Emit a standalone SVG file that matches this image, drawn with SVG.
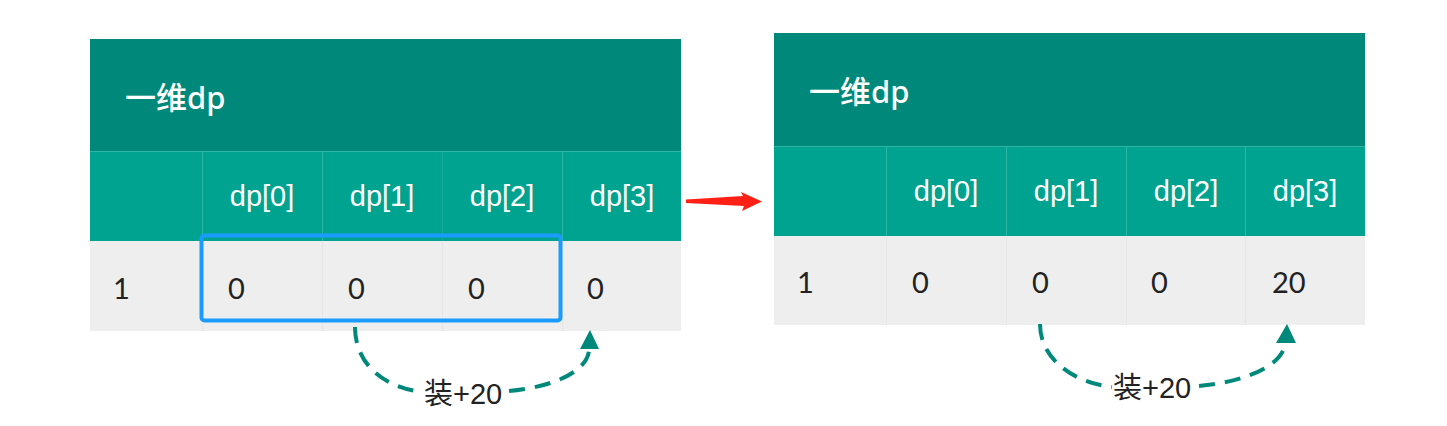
<svg xmlns="http://www.w3.org/2000/svg" width="1447" height="426" viewBox="0 0 1447 426">
<style>
.title{fill:#00897b}
.head{fill:#00a390}
.row{fill:#eeeeee}
.sep{stroke:#2fb5a3;stroke-width:1}
.sepd{stroke:#e6e6e6;stroke-width:1}
.tt{font-family:"Noto Sans","Noto Sans CJK SC",sans-serif;font-size:31px;font-weight:500;fill:#ffffff}
.ht{font-family:"Liberation Sans",sans-serif;font-size:29px;fill:#ffffff;text-anchor:middle}
.dt{font-family:"Lato","Liberation Sans",sans-serif;font-size:29px;fill:#222222}
.lbl{font-family:"Liberation Sans","Noto Sans CJK SC",sans-serif;font-size:29px;fill:#222222}
.curve{fill:none;stroke:#00897b;stroke-width:4;stroke-dasharray:16 10}
</style>
<rect width="1447" height="426" fill="#ffffff"/>
<g id="table-left">
<rect class="title" x="90" y="39" width="591" height="112"/>
<rect class="head" x="90" y="151" width="591" height="90"/>
<rect class="row" x="90" y="241" width="591" height="90"/>
<line class="sep" x1="90" y1="151.5" x2="681" y2="151.5"/>
<line class="sep" x1="202.5" y1="151" x2="202.5" y2="241"/>
<line class="sep" x1="322.5" y1="151" x2="322.5" y2="241"/>
<line class="sep" x1="442.5" y1="151" x2="442.5" y2="241" stroke-opacity="0.4"/>
<line class="sep" x1="562.5" y1="151" x2="562.5" y2="241"/>
<line class="sepd" x1="202.5" y1="241" x2="202.5" y2="331"/>
<line class="sepd" x1="322.5" y1="241" x2="322.5" y2="331"/>
<line class="sepd" x1="442.5" y1="241" x2="442.5" y2="331"/>
<line class="sepd" x1="562.5" y1="241" x2="562.5" y2="331"/>
<text class="tt" x="125" y="109">一维dp</text>
<text class="ht" x="262" y="206">dp[0]</text>
<text class="ht" x="382" y="206">dp[1]</text>
<text class="ht" x="502" y="206">dp[2]</text>
<text class="ht" x="622" y="206">dp[3]</text>
<text class="dt" x="113" y="299">1</text>
<text class="dt" x="228" y="299">0</text>
<text class="dt" x="348" y="299">0</text>
<text class="dt" x="468" y="299">0</text>
<text class="dt" x="587" y="299">0</text>
</g>
<g id="highlight">
<rect x="201.5" y="235.5" width="359" height="85" rx="3" fill="none" stroke="#1a9bff" stroke-width="4"/>
</g>
<g id="table-right">
<rect class="title" x="774" y="33" width="591" height="113"/>
<rect class="head" x="774" y="146" width="591" height="90"/>
<rect class="row" x="774" y="236" width="591" height="89"/>
<line class="sep" x1="774" y1="146.5" x2="1365" y2="146.5"/>
<line class="sep" x1="886.5" y1="146" x2="886.5" y2="236"/>
<line class="sep" x1="1006.5" y1="146" x2="1006.5" y2="236"/>
<line class="sep" x1="1126.5" y1="146" x2="1126.5" y2="236"/>
<line class="sep" x1="1245.5" y1="146" x2="1245.5" y2="236"/>
<line class="sepd" x1="886.5" y1="236" x2="886.5" y2="325"/>
<line class="sepd" x1="1006.5" y1="236" x2="1006.5" y2="325"/>
<line class="sepd" x1="1126.5" y1="236" x2="1126.5" y2="325"/>
<line class="sepd" x1="1245.5" y1="236" x2="1245.5" y2="325"/>
<text class="tt" x="809" y="103">一维dp</text>
<text class="ht" x="946" y="201">dp[0]</text>
<text class="ht" x="1066" y="201">dp[1]</text>
<text class="ht" x="1186" y="201">dp[2]</text>
<text class="ht" x="1305" y="201">dp[3]</text>
<text class="dt" x="797" y="293">1</text>
<text class="dt" x="912" y="293">0</text>
<text class="dt" x="1032" y="293">0</text>
<text class="dt" x="1151" y="293">0</text>
<text class="dt" x="1272" y="293">20</text>
</g>
<g id="connectors">
<polygon points="686,199.5 743,196 741,192 762,201.5 742,211 744,206 686,203" fill="#ff2115"/>
<path class="curve" d="M355,327 C355,365 385,388 423,392"/>
<path class="curve" d="M509,391 C555,387 590,370 589,348"/>
<polygon points="590,330 599,349 580,349" fill="#00897b"/>
<text class="lbl" x="424" y="404">装+20</text>
<path class="curve" d="M1040,324 C1040,360 1075,383 1112,387"/>
<path class="curve" d="M1199,386 C1245,382 1285,365 1285,342"/>
<polygon points="1287,324 1296,343 1276,343" fill="#00897b"/>
<text class="lbl" x="1113" y="398">装+20</text>
</g>
</svg>
